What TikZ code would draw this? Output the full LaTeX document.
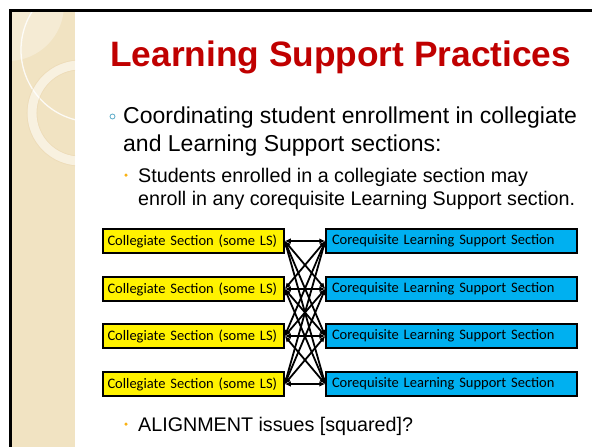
\documentclass[tikz,border=0pt]{standalone}
\usepackage{fontspec}
\setmainfont{Liberation Sans}
\newfontfamily\boxfont{Carlito}
\usetikzlibrary{arrows.meta}
\definecolor{titlered}{RGB}{192,0,0}
\definecolor{panelbeige}{RGB}{241,227,194}
\definecolor{lsblue}{RGB}{0,176,240}
\definecolor{bulletteal}{RGB}{90,170,200}
\definecolor{bulletorange}{RGB}{250,178,20}

\begin{document}
\begin{tikzpicture}[x=1pt,y=1pt,
  coll/.style={draw=black,line width=1.5pt,fill=yellow,minimum height=24pt,
    text width=172pt,inner xsep=4.5pt,inner ysep=0pt,align=left,
    font=\boxfont\fontsize{14.5}{16}\selectfont},
  coreq/.style={coll,fill=lsblue,text width=239pt,inner xsep=6pt},
  link/.style={{Latex[length=6pt,width=5.5pt]}-{Latex[length=6pt,width=5.5pt]},line width=1.8pt},
  bodytext/.style={anchor=base west,inner sep=0pt,align=left}]
\useasboundingbox (0,0) rectangle (592,-447);
\fill [white] (0,0) rectangle (592,-447);
% side panel and its circles
\fill [panelbeige] (11,-11) rectangle (75,-447);
\begin{scope}
\clip (11,-11) rectangle (75,-447);
\fill [white,opacity=0.3] (8,-5) circle (56);
\draw [white,opacity=0.85,line width=1.3pt] (93,-50) circle (72);
\draw [white,opacity=0.5,line width=9pt] (80,-113) circle (48);
\draw [panelbeige!85!brown,opacity=0.5,line width=0.6pt] (80,-113) circle (53);
\draw [panelbeige!85!brown,opacity=0.5,line width=0.6pt] (80,-113) circle (43);
\end{scope}
\draw [black,line width=2.5pt] (592,-10.7) -- (10.7,-10.7) -- (10.7,-447);
% title
\node [bodytext,text=titlered,font=\bfseries\fontsize{35.3}{40}\selectfont] (title) at (110,-66) {Learning Support Practices};
% bullets
\node [circle,draw=bulletteal,line width=0.8pt,minimum size=5pt,inner sep=0pt] (dotone) at (112.5,-116.5) {};
\node [bodytext,font=\fontsize{23}{28}\selectfont] (lineone) at (123,-151) {Coordinating student enrollment in collegiate\\and Learning Support sections:};
\node [circle,fill=bulletorange,minimum size=3.5pt,inner sep=0pt] (dottwo) at (126,-175) {};
\node [bodytext,font=\fontsize{19.7}{23}\selectfont] (linetwo) at (138,-205) {Students enrolled in a collegiate section may\\enroll in any corequisite Learning Support section.};
\node [circle,fill=bulletorange,minimum size=3.5pt,inner sep=0pt] (dotthree) at (126,-424) {};
\node [bodytext,font=\fontsize{19.7}{23}\selectfont] (linethree) at (138,-431) {ALIGNMENT issues [squared]?};
% sections
\node [coll] (c1) at (193.5,-241) {Collegiate Section (some LS)};
\node [coll] (c2) at (193.5,-289) {Collegiate Section (some LS)};
\node [coll] (c3) at (193.5,-336) {Collegiate Section (some LS)};
\node [coll] (c4) at (193.5,-384) {Collegiate Section (some LS)};
\node [coreq] (r1) at (451.5,-241) {Corequisite Learning Support Section};
\node [coreq] (r2) at (451.5,-289) {Corequisite Learning Support Section};
\node [coreq] (r3) at (451.5,-336) {Corequisite Learning Support Section};
\node [coreq] (r4) at (451.5,-384) {Corequisite Learning Support Section};
% links
\draw [link] (c1.east) -- (r1.west);
\draw [link] (c1.east) -- (r2.west);
\draw [link] (c1.east) -- (r3.west);
\draw [link] (c1.east) -- (r4.west);
\draw [link] (c2.east) -- (r1.west);
\draw [link] (c2.east) -- (r2.west);
\draw [link] (c2.east) -- (r3.west);
\draw [link] (c2.east) -- (r4.west);
\draw [link] (c3.east) -- (r1.west);
\draw [link] (c3.east) -- (r2.west);
\draw [link] (c3.east) -- (r3.west);
\draw [link] (c3.east) -- (r4.west);
\draw [link] (c4.east) -- (r1.west);
\draw [link] (c4.east) -- (r2.west);
\draw [link] (c4.east) -- (r3.west);
\draw [link] (c4.east) -- (r4.west);
\end{tikzpicture}
\end{document}
